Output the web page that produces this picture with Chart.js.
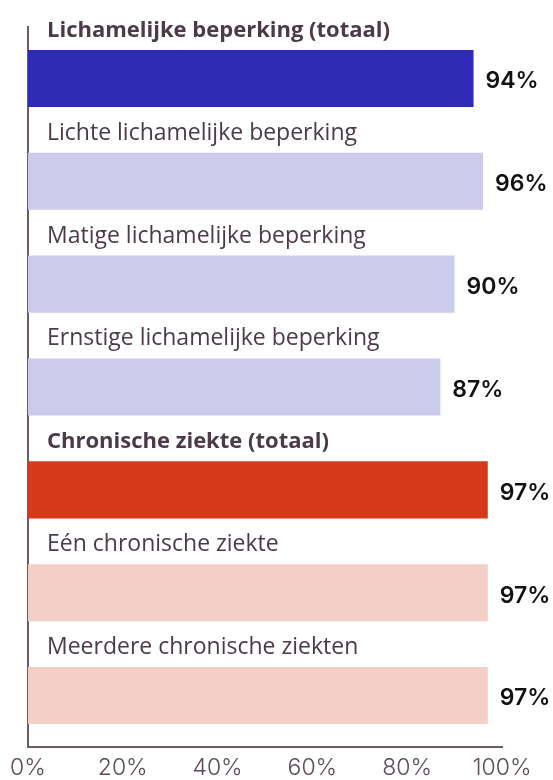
<!DOCTYPE html>
<html>
<head>
<meta charset="utf-8">
<script src="https://cdn.jsdelivr.net/npm/chart.js@4"></script>
<style>
  body { margin: 0; background: #fff; }
  #wrap { width: 553px; height: 780px; position: relative; }
</style>
</head>
<body>
<div id="wrap"><canvas id="chart"></canvas></div>
<script>
const categories = [
    'Lichamelijke beperking (totaal)',
    'Lichte lichamelijke beperking',
    'Matige lichamelijke beperking',
    'Ernstige lichamelijke beperking',
    'Chronische ziekte (totaal)',
    'Eén chronische ziekte',
    'Meerdere chronische ziekten'
];
const values = [94, 96, 90, 87, 97, 97, 97];
const tickValues = [0, 20, 40, 60, 80, 100];
const barColors = ['#2f2ab5', '#cccbec', '#cccbec', '#cccbec', '#d63a1a', '#f4cfc6', '#f4cfc6'];

const textColor = '#4b3a48';
const axisColor = '#6b5a67';

// labels above the bars and values at the end of them
const barLabels = {
    id: 'barLabels',
    afterDatasetsDraw(chart) {
        const ctx = chart.ctx;
        const bars = chart.getDatasetMeta(0).data;
        ctx.save();
        bars.forEach(function(bar, i) {
            const top = bar.y - bar.height / 2;
            const isTotal = categories[i].indexOf('(totaal)') !== -1;
            ctx.font = isTotal ? 'bold 22px "Open Sans"' : '23px "Open Sans"';
            ctx.fillStyle = textColor;
            ctx.textAlign = 'left';
            ctx.textBaseline = 'alphabetic';
            ctx.fillText(categories[i], 47, top - 13);

            ctx.font = '600 23px Inter';
            ctx.fillStyle = '#111';
            ctx.textBaseline = 'middle';
            ctx.fillText(values[i] + '%', bar.x + 12, bar.y + 3);
        });
        ctx.restore();
    }
};

new Chart(document.getElementById('chart'), {
    type: 'bar',
    data: {
        labels: categories,
        datasets: [{
            data: values,
            backgroundColor: barColors,
            borderWidth: 0,
            categoryPercentage: 1,
            barPercentage: 0.555
        }]
    },
    options: {
        indexAxis: 'y',
        responsive: true,
        maintainAspectRatio: false,
        animation: false,
        layout: { padding: { left: 26, right: 51, top: 27, bottom: 0 } },
        plugins: {
            legend: { display: false },
            tooltip: { enabled: false }
        },
        scales: {
            x: {
                min: 0,
                max: 100,
                afterBuildTicks: function(axis) {
                    axis.ticks = tickValues.map(v => ({ value: v }));
                },
                afterFit: function(axis) {
                    axis.height = 33;
                },
                grid: { display: false, drawTicks: false },
                border: { display: true, color: axisColor, width: 2 },
                ticks: {
                    padding: 10,
                    color: '#5c4b58',
                    font: { family: 'Inter', size: 23, weight: 300, lineHeight: 1 },
                    callback: v => v + '%'
                }
            },
            y: {
                grid: { display: false, drawTicks: false },
                border: { display: true, color: axisColor, width: 2 },
                ticks: { display: false }
            }
        }
    },
    plugins: [barLabels]
});
</script>
</body>
</html>
